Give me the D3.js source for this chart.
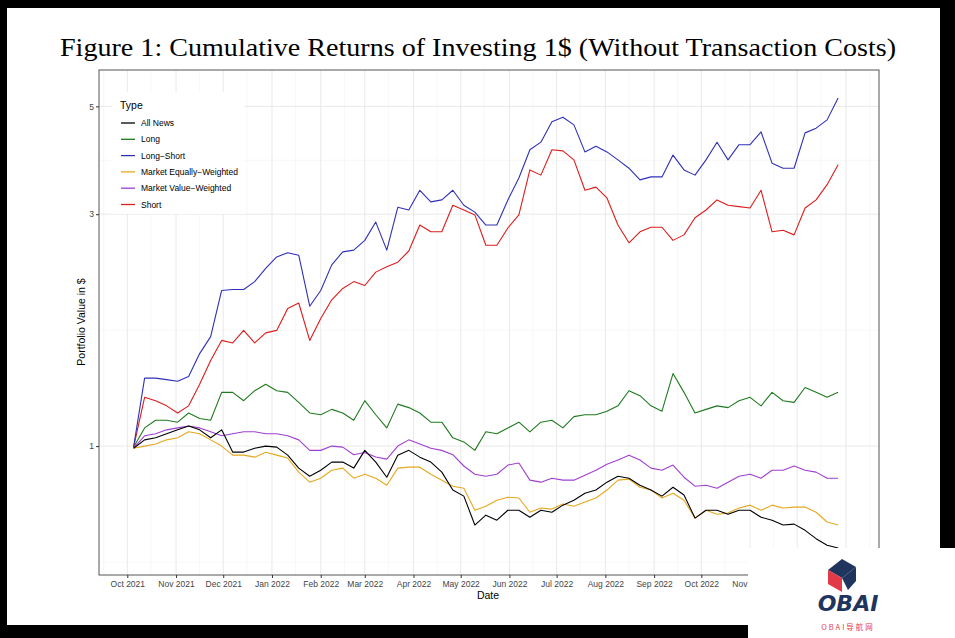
<!DOCTYPE html>
<html><head><meta charset="utf-8">
<script src="https://cdn.jsdelivr.net/npm/d3@7/dist/d3.min.js"></script>
<style>body{margin:0;background:#000}svg{display:block}</style>
</head><body>
<script>
const seriesNames = ["All News","Long","Long\u2212Short","Market Equally\u2212Weighted","Market Value\u2212Weighted","Short"];
const seriesColors = ["#000000","#1f7a1f","#3030b8","#e6a81e","#a040d0","#dd1c1c"];
const startDate = "2021-10-05"; // weekly observations
const allNews = [0.99,1.03,1.04,1.06,1.08,1.10,1.08,1.04,1.08,0.972,0.972,0.99,1.00,0.995,0.958,0.901,0.867,0.892,0.927,0.927,0.901,0.98,0.927,0.863,0.958,0.98,0.949,0.927,0.884,0.812,0.789,0.688,0.721,0.704,0.738,0.738,0.714,0.738,0.731,0.756,0.774,0.800,0.812,0.843,0.867,0.859,0.831,0.812,0.789,0.823,0.793,0.711,0.738,0.738,0.724,0.738,0.738,0.714,0.704,0.688,0.691,0.671,0.645,0.625,0.617];
const longS = [0.995,1.09,1.13,1.13,1.12,1.17,1.14,1.13,1.29,1.29,1.24,1.30,1.34,1.30,1.29,1.23,1.17,1.16,1.19,1.17,1.13,1.24,1.16,1.09,1.22,1.20,1.17,1.12,1.12,1.04,1.02,0.98,1.07,1.06,1.09,1.12,1.07,1.12,1.13,1.09,1.15,1.16,1.16,1.18,1.21,1.30,1.27,1.21,1.18,1.41,1.29,1.17,1.19,1.21,1.20,1.24,1.26,1.21,1.29,1.24,1.23,1.32,1.29,1.26,1.29];
const longShort = [0.995,1.38,1.38,1.37,1.36,1.39,1.55,1.68,2.09,2.10,2.10,2.18,2.32,2.45,2.50,2.47,1.94,2.09,2.36,2.51,2.53,2.65,2.89,2.53,3.10,3.06,3.36,3.18,3.21,3.36,3.13,3.03,2.85,2.85,3.21,3.56,4.07,4.22,4.65,4.75,4.58,4.03,4.14,4.03,3.88,3.73,3.53,3.58,3.58,3.97,3.70,3.61,3.88,4.22,3.88,4.17,4.17,4.43,3.82,3.73,3.73,4.41,4.51,4.69,5.20];
const marketEW = [0.99,1.00,1.01,1.03,1.04,1.07,1.06,1.03,1.00,0.958,0.958,0.949,0.971,0.958,0.945,0.884,0.843,0.859,0.892,0.901,0.859,0.875,0.859,0.831,0.901,0.905,0.905,0.875,0.851,0.827,0.819,0.738,0.752,0.774,0.785,0.782,0.731,0.746,0.742,0.760,0.752,0.767,0.782,0.812,0.851,0.855,0.823,0.812,0.782,0.800,0.774,0.711,0.738,0.724,0.728,0.746,0.756,0.738,0.756,0.746,0.749,0.749,0.731,0.698,0.688];
const marketVW = [0.99,1.05,1.06,1.08,1.09,1.10,1.09,1.07,1.05,1.06,1.07,1.07,1.06,1.06,1.05,1.03,0.98,0.98,1.00,0.995,0.96,0.97,0.95,0.94,1.00,1.03,1.01,0.99,0.98,0.96,0.91,0.875,0.867,0.875,0.914,0.923,0.851,0.843,0.859,0.851,0.851,0.871,0.892,0.918,0.936,0.958,0.936,0.901,0.892,0.914,0.863,0.827,0.831,0.819,0.843,0.867,0.875,0.859,0.892,0.892,0.91,0.892,0.884,0.859,0.859];
const shortS = [0.995,1.26,1.24,1.21,1.17,1.21,1.34,1.50,1.65,1.63,1.73,1.63,1.71,1.73,1.92,1.97,1.65,1.83,2.00,2.11,2.18,2.14,2.28,2.34,2.39,2.52,2.85,2.76,2.76,3.13,3.06,2.99,2.59,2.59,2.81,2.99,3.70,3.61,4.07,4.05,3.88,3.36,3.41,3.24,2.85,2.62,2.76,2.82,2.82,2.65,2.72,2.95,3.06,3.21,3.13,3.11,3.09,3.36,2.76,2.78,2.72,3.09,3.21,3.45,3.79];
const yTicks = [1,3,5];
const yMinor = [Math.sqrt(1/3),Math.sqrt(3),Math.sqrt(15)];
const xTickLabels = ["Oct 2021","Nov 2021","Dec 2021","Jan 2022","Feb 2022","Mar 2022","Apr 2022","May 2022","Jun 2022","Jul 2022","Aug 2022","Sep 2022","Oct 2022","Nov 2022","Dec 2022"];

const W=955,H=638;
const svg=d3.select("body").append("svg").attr("width",W).attr("height",H);
svg.append("rect").attr("width",W).attr("height",H).attr("fill","#000");
svg.append("rect").attr("x",7).attr("y",8).attr("width",933).attr("height",617).attr("fill","#fff");

const L=99,R=879,T=70,B=575;
const parse=d3.timeParse("%Y-%m-%d");
const t0=parse(startDate);
const dates=allNews.map((_,i)=>d3.timeDay.offset(t0,7*i));
const x=d3.scaleTime().domain([parse("2021-09-13"),parse("2023-01-22")]).range([L,R]);
const y=d3.scaleLog().domain([0.543,5.94]).range([B,T]);

svg.append("text").attr("x",478).attr("y",56).attr("text-anchor","middle")
 .attr("font-family","Liberation Serif, DejaVu Serif, serif").attr("font-size",25)
 .attr("textLength",836).attr("lengthAdjust","spacingAndGlyphs")
 .text("Figure 1: Cumulative Returns of Investing 1$ (Without Transaction Costs)");

const g=svg.append("g");
const months=d3.timeMonth.range(parse("2021-10-01"),parse("2023-01-02"));
const mids=months.map(m=>d3.timeDay.offset(m,15)).concat([parse("2021-09-16")]);
mids.forEach(d=>{const xx=x(d); if(xx>L&&xx<R) g.append("line").attr("x1",xx).attr("x2",xx).attr("y1",T).attr("y2",B).attr("stroke","#f2f2f2").attr("stroke-width",0.6);});
yMinor.forEach(v=>g.append("line").attr("x1",L).attr("x2",R).attr("y1",y(v)).attr("y2",y(v)).attr("stroke","#f2f2f2").attr("stroke-width",0.6));
months.forEach(d=>g.append("line").attr("x1",x(d)).attr("x2",x(d)).attr("y1",T).attr("y2",B).attr("stroke","#e6e6e6").attr("stroke-width",0.9));
yTicks.forEach(v=>g.append("line").attr("x1",L).attr("x2",R).attr("y1",y(v)).attr("y2",y(v)).attr("stroke","#e6e6e6").attr("stroke-width",0.9));

const all=[allNews,longS,longShort,marketEW,marketVW,shortS];
const line=d3.line().x((d,i)=>x(dates[i])).y(d=>y(d));
[1,4,3,0,5,2].forEach(k=>g.append("path").datum(all[k]).attr("d",line).attr("fill","none").attr("stroke",seriesColors[k]).attr("stroke-width",1.1).attr("stroke-linejoin","round"));

svg.append("rect").attr("x",L).attr("y",T).attr("width",R-L).attr("height",B-T).attr("fill","none").attr("stroke","#555").attr("stroke-width",1);

const ya=svg.append("g").attr("transform",`translate(${L},0)`).call(d3.axisLeft(y).tickValues(yTicks).tickFormat(d3.format("d")).tickSize(3).tickPadding(2));
const xa=svg.append("g").attr("transform",`translate(0,${B})`).call(d3.axisBottom(x).tickValues(months.slice(0,15)).tickFormat((d,i)=>xTickLabels[i]).tickSize(3).tickPadding(3));
[ya,xa].forEach(a=>{a.select(".domain").remove();a.selectAll("line").attr("stroke","#333");a.selectAll("text").attr("font-family","Liberation Sans, Arial, sans-serif").attr("font-size",8.5).attr("fill","#444");});
svg.append("text").attr("x",488).attr("y",599).attr("text-anchor","middle").attr("font-family","Liberation Sans, Arial, sans-serif").attr("font-size",10.5).text("Date");
svg.append("text").attr("transform","translate(85,322) rotate(-90)").attr("text-anchor","middle").attr("font-family","Liberation Sans, Arial, sans-serif").attr("font-size",10.5).text("Portfolio Value in $");

const lg=svg.append("g");
lg.append("rect").attr("x",112).attr("y",92).attr("width",132).attr("height",122).attr("fill","#fff");
lg.append("text").attr("x",120).attr("y",109).attr("font-family","Liberation Sans, Arial, sans-serif").attr("font-size",10.5).text("Type");
seriesNames.forEach((n,i)=>{const yy=123+i*16.3;
 lg.append("line").attr("x1",121).attr("x2",135).attr("y1",yy).attr("y2",yy).attr("stroke",seriesColors[i]).attr("stroke-width",1.3);
 lg.append("text").attr("x",141).attr("y",yy+3).attr("font-family","Liberation Sans, Arial, sans-serif").attr("font-size",8.5).text(n);});

svg.append("rect").attr("x",748).attr("y",548).attr("width",207).attr("height",90).attr("fill","#fff");
const lo=svg.append("g");
lo.append("polygon").attr("points","828,570 842,559 856,567 842,578").attr("fill","#1f355e");
lo.append("polygon").attr("points","828,570 842,578 842,592 828,584").attr("fill","#e23a46");
lo.append("polygon").attr("points","842,578 856,567 856,581 848,590").attr("fill","#1f355e");
lo.append("text").attr("x",848).attr("y",611).attr("text-anchor","middle").attr("font-family","DejaVu Sans, sans-serif").attr("font-weight","bold").attr("font-style","italic").attr("font-size",22).attr("fill","#1f355e").text("OBAI");
lo.append("text").attr("x",848).attr("y",630).attr("text-anchor","middle").attr("font-family","Noto Sans CJK SC, sans-serif").attr("font-size",7.5).attr("letter-spacing",2).attr("fill","#e23a46").text("OBAI导航网");
</script>
</body></html>
